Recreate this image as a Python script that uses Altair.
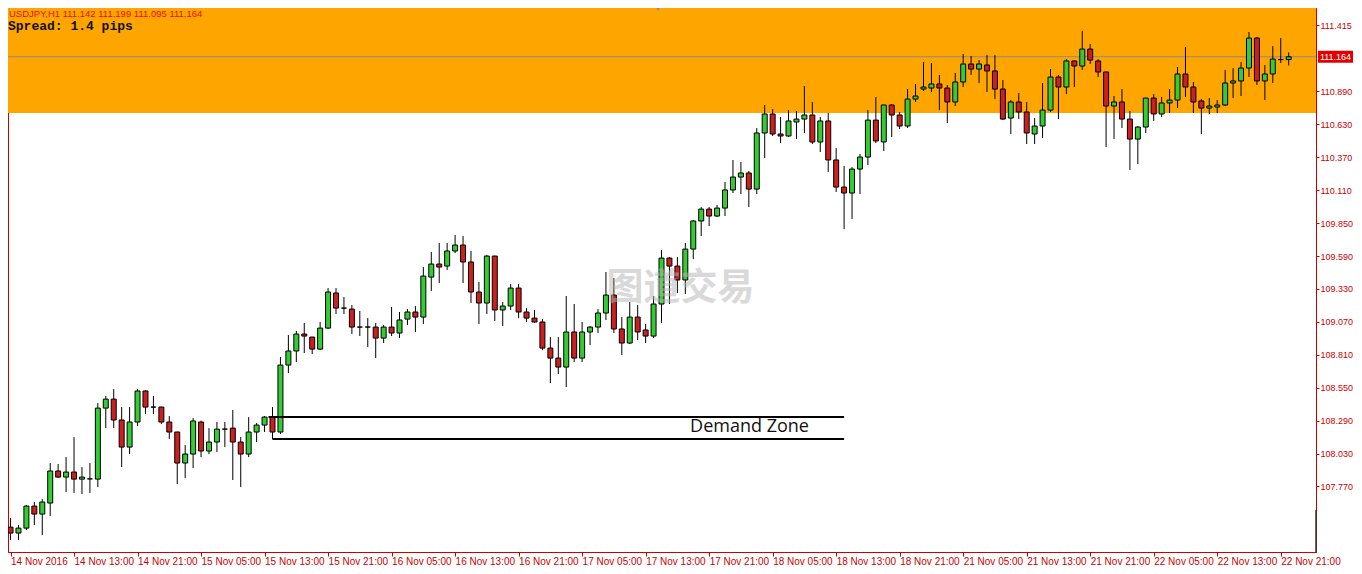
import json
import altair as alt
import pandas as pd

# ---------------- data ----------------
opens = [107.449, 107.402, 107.441, 107.615, 107.552, 107.639, 107.892, 107.844, 107.884, 107.828,
         107.830, 107.828, 108.389, 108.460, 108.295, 108.081, 108.279, 108.524, 108.397, 108.397,
         108.279, 108.200, 107.955, 108.026, 108.279, 108.050, 108.121, 108.223, 108.231, 108.121,
         108.026, 108.200, 108.255, 108.318, 108.200, 108.729, 108.840, 108.974, 108.950, 108.855,
         109.021, 109.298, 109.179, 109.171, 109.029, 109.029, 109.029, 108.942, 109.029, 108.982,
         109.092, 109.148, 109.108, 109.424, 109.527, 109.511, 109.630, 109.677, 109.543, 109.306,
         109.219, 109.590, 109.164, 109.195, 109.337, 109.148, 109.100, 109.069, 108.863, 108.784,
         108.713, 108.990, 108.784, 108.990, 109.029, 109.140, 109.282, 109.014, 108.903, 109.108,
         109.006, 108.958, 109.211, 109.574, 109.511, 109.401, 109.645, 109.867, 109.961, 109.906,
         109.969, 110.112, 110.214, 110.246, 110.119, 110.562, 110.712, 110.554, 110.538, 110.649,
         110.672, 110.704, 110.491, 110.657, 110.349, 110.135, 110.088, 110.277, 110.372, 110.664,
         110.491, 110.783, 110.704, 110.617, 110.830, 110.909, 110.917, 110.949, 110.917, 110.807,
         110.965, 111.107, 111.067, 111.099, 111.052, 110.909, 110.680, 110.807, 110.728, 110.554,
         110.617, 110.743, 111.004, 110.925, 111.131, 111.091, 111.225, 111.131, 111.044, 110.775,
         110.807, 110.672, 110.514, 110.609, 110.838, 110.712, 110.799, 110.822, 111.028, 110.925,
         110.815, 110.759, 110.767, 110.783, 110.957, 110.973, 111.075, 111.312, 110.973, 111.028,
         111.142, 111.142]
highs = [107.520, 107.465, 107.623, 107.647, 107.670, 107.955, 107.947, 108.002, 108.160, 107.923,
         107.955, 108.429, 108.484, 108.539, 108.397, 108.397, 108.539, 108.530, 108.484, 108.400,
         108.326, 108.203, 108.097, 108.310, 108.290, 108.231, 108.279, 108.279, 108.374, 108.160,
         108.318, 108.271, 108.326, 108.397, 108.792, 108.966, 108.998, 109.061, 108.952, 109.069,
         109.337, 109.337, 109.266, 109.203, 109.156, 109.100, 109.061, 109.045, 109.187, 109.148,
         109.171, 109.195, 109.503, 109.622, 109.693, 109.693, 109.756, 109.748, 109.630, 109.385,
         109.598, 109.593, 109.227, 109.369, 109.369, 109.179, 109.164, 109.092, 108.950, 108.950,
         109.274, 109.211, 109.069, 109.037, 109.171, 109.464, 109.416, 109.108, 109.227, 109.203,
         109.053, 109.274, 109.638, 109.582, 109.582, 109.693, 109.874, 109.977, 109.977, 109.993,
         110.175, 110.349, 110.333, 110.262, 110.601, 110.783, 110.751, 110.688, 110.743, 110.736,
         110.933, 110.807, 110.688, 110.720, 110.443, 110.301, 110.293, 110.396, 110.743, 110.846,
         110.786, 110.790, 110.728, 110.909, 110.949, 111.123, 111.115, 111.020, 110.941, 111.036,
         111.186, 111.170, 111.138, 111.178, 111.178, 110.980, 110.822, 110.878, 110.807, 110.680,
         110.957, 111.067, 111.020, 111.146, 111.134, 111.368, 111.265, 111.146, 111.047, 110.854,
         110.909, 110.736, 110.617, 110.841, 110.870, 110.846, 110.909, 111.083, 111.241, 110.965,
         110.830, 110.838, 110.822, 111.060, 111.075, 111.123, 111.360, 111.320, 111.099, 111.249,
         111.312, 111.199]
lows = [107.347, 107.347, 107.426, 107.465, 107.386, 107.536, 107.836, 107.726, 107.718, 107.710,
        107.718, 107.765, 108.231, 108.231, 107.923, 108.026, 108.247, 108.342, 108.342, 108.263,
        108.144, 107.789, 107.836, 107.915, 108.002, 108.026, 108.042, 108.081, 107.821, 107.765,
        108.002, 108.121, 108.200, 108.144, 108.184, 108.666, 108.753, 108.824, 108.816, 108.847,
        109.014, 109.132, 109.132, 108.974, 108.958, 108.871, 108.784, 108.903, 108.958, 108.942,
        109.045, 108.990, 109.053, 109.314, 109.377, 109.480, 109.614, 109.377, 109.219, 109.053,
        109.132, 109.077, 109.037, 109.164, 109.100, 109.069, 109.061, 108.847, 108.587, 108.658,
        108.555, 108.753, 108.753, 108.887, 108.982, 109.085, 108.982, 108.808, 108.895, 108.927,
        108.903, 108.942, 109.061, 109.211, 109.298, 109.290, 109.566, 109.748, 109.827, 109.898,
        109.906, 110.088, 110.080, 109.977, 110.080, 110.364, 110.538, 110.483, 110.530, 110.514,
        110.562, 110.475, 110.412, 110.254, 110.096, 109.803, 109.882, 110.080, 110.309, 110.483,
        110.420, 110.530, 110.593, 110.601, 110.807, 110.894, 110.886, 110.743, 110.641, 110.775,
        110.925, 111.020, 110.957, 110.886, 110.830, 110.664, 110.554, 110.672, 110.475, 110.475,
        110.522, 110.728, 110.672, 110.870, 110.925, 111.060, 111.107, 111.004, 110.451, 110.514,
        110.601, 110.270, 110.317, 110.562, 110.657, 110.688, 110.720, 110.759, 110.846, 110.720,
        110.554, 110.712, 110.720, 110.775, 110.838, 110.854, 111.004, 110.941, 110.822, 110.957,
        111.115, 111.095]
closes = [107.402, 107.441, 107.615, 107.552, 107.647, 107.892, 107.844, 107.884, 107.828, 107.844,
          107.830, 108.389, 108.460, 108.295, 108.081, 108.279, 108.524, 108.397, 108.397, 108.279,
          108.200, 107.955, 108.026, 108.287, 108.050, 108.121, 108.223, 108.223, 108.121, 108.026,
          108.200, 108.255, 108.318, 108.200, 108.729, 108.840, 108.974, 108.958, 108.855, 109.021,
          109.306, 109.179, 109.179, 109.029, 109.029, 109.029, 108.942, 109.029, 108.982, 109.085,
          109.148, 109.108, 109.432, 109.527, 109.503, 109.630, 109.677, 109.543, 109.306, 109.219,
          109.590, 109.164, 109.195, 109.337, 109.148, 109.100, 109.069, 108.863, 108.784, 108.713,
          108.990, 108.784, 108.990, 109.029, 109.140, 109.282, 109.014, 108.903, 109.108, 108.990,
          108.958, 109.211, 109.574, 109.511, 109.401, 109.645, 109.867, 109.961, 109.906, 109.969,
          110.112, 110.214, 110.246, 110.119, 110.562, 110.712, 110.554, 110.538, 110.657, 110.672,
          110.704, 110.491, 110.657, 110.349, 110.135, 110.088, 110.277, 110.372, 110.664, 110.499,
          110.783, 110.704, 110.617, 110.830, 110.854, 110.925, 110.949, 110.917, 110.807, 110.965,
          111.107, 111.067, 111.107, 111.052, 110.909, 110.672, 110.807, 110.728, 110.562, 110.617,
          110.743, 111.004, 110.925, 111.131, 111.091, 111.225, 111.138, 111.044, 110.775, 110.807,
          110.672, 110.514, 110.609, 110.838, 110.712, 110.799, 110.822, 111.028, 110.925, 110.807,
          110.759, 110.775, 110.783, 110.957, 110.973, 111.075, 111.312, 110.973, 111.028, 111.146,
          111.142, 111.164]

time_labels = ["14 Nov 2016", "14 Nov 13:00", "14 Nov 21:00", "15 Nov 05:00", "15 Nov 13:00",
               "15 Nov 21:00", "16 Nov 05:00", "16 Nov 13:00", "16 Nov 21:00", "17 Nov 05:00",
               "17 Nov 13:00", "17 Nov 21:00", "18 Nov 05:00", "18 Nov 13:00", "18 Nov 21:00",
               "21 Nov 05:00", "21 Nov 13:00", "21 Nov 21:00", "22 Nov 05:00", "22 Nov 13:00",
               "22 Nov 21:00"]
label_bars = [0, 8, 16, 24, 32, 40, 48, 56, 64, 72, 80, 88, 96, 104, 112, 120, 128, 136, 144, 152, 160]
price_ticks = [111.415, 110.890, 110.630, 110.370, 110.110, 109.850, 109.590, 109.330,
               109.070, 108.810, 108.550, 108.290, 108.030, 107.770]

current_price = [111.164]
zone_top = [111.60]
zone_bottom = [110.72]
demand_x0 = [32.5, 33.0]
demand_x1 = [105.0, 105.0]
demand_y = [108.318, 108.144]
header_line1 = "USDJPY,H1  111.142 111.199 111.095 111.164"
header_line2 = "Spread: 1.4 pips"

# ---------------- tables ----------------
df = pd.DataFrame({"i": list(range(len(opens))), "o": opens, "h": highs, "l": lows, "c": closes})
df["dir"] = ["up" if c > o else ("down" if c < o else "flat") for o, c in zip(opens, closes)]

W, H = 1308, 544
xs = alt.Scale(domain=[0.3125, 163.8125], nice=False, zero=False)
ys = alt.Scale(domain=[107.2523, 111.5493], nice=False, zero=False)
GREEN = "#33cc33"
RED = "#cc1f1f"
AXIS_RED = "#cc0000"

label_expr = json.dumps(time_labels) + "[round(datum.value / 8)]"
x_axis = alt.Axis(values=label_bars, labelExpr=label_expr, title=None, tickSize=4,
                  labelAlign="left", labelBaseline="top", labelPadding=0,
                  labelOverlap=False, labelFlush=False, labelBound=False, grid=False)
y_axis = alt.Axis(values=price_ticks, format=".3f", orient="right", title=None, tickSize=3,
                  labelPadding=1, labelOverlap=False, labelFontSize=9, grid=False)


def X(field):
    return alt.X(field, scale=xs, axis=x_axis)


def Y(field):
    return alt.Y(field, scale=ys, axis=y_axis)


zone = alt.Chart(pd.DataFrame({"top": zone_top, "bot": zone_bottom})).mark_rect(
    color="#FFA500", clip=True
).encode(x=alt.value(0), x2=alt.value(W), y=Y("top:Q"), y2="bot:Q")

price_line = alt.Chart(pd.DataFrame({"p": current_price})).mark_rule(
    color="#8a8a8a", strokeWidth=1
).encode(x=alt.value(0), x2=alt.value(W), y=Y("p:Q"))

base = alt.Chart(df)
wicks = base.mark_rule(color="black", strokeWidth=1, clip=True).encode(
    x=X("i:Q"), y=Y("l:Q"), y2="h:Q"
)
bodies = base.mark_bar(width=5, stroke="black", strokeWidth=1, clip=True).encode(
    x=X("i:Q"), y=Y("o:Q"), y2="c:Q",
    fill=alt.Fill("dir:N", scale=alt.Scale(domain=["up", "down", "flat"], range=[GREEN, RED, "#000000"]),
                  legend=None),
)

dz = alt.Chart(pd.DataFrame({"x0": demand_x0, "x1": demand_x1, "y": demand_y})).mark_rule(
    color="black", strokeWidth=2
).encode(x=X("x0:Q"), x2="x1:Q", y=Y("y:Q"))

dz_text = alt.Chart(pd.DataFrame({"x": [85.6], "y": [108.239], "t": ["Demand Zone"]})).mark_text(
    align="left", baseline="middle", fontSize=18, font="Open Sans", color="#111111"
).encode(x=X("x:Q"), y=Y("y:Q"), text="t:N")

watermark = alt.Chart(pd.DataFrame({"x": [84.4], "y": [109.329], "t": ["图道交易"]})).mark_text(
    align="center", baseline="middle", fontSize=37, font="Noto Sans CJK SC", fontWeight="bold",
    color="#b4b4b4", opacity=0.5
).encode(x=X("x:Q"), y=Y("y:Q"), text="t:N")

head1 = alt.Chart(pd.DataFrame({"t": [header_line1]})).mark_text(
    align="left", baseline="middle", fontSize=9.5, font="Liberation Sans", color="#e01010"
).encode(x=alt.value(1), y=alt.value(6), text="t:N")
head2 = alt.Chart(pd.DataFrame({"t": [header_line2]})).mark_text(
    align="left", baseline="middle", fontSize=13, font="Liberation Mono", fontWeight="bold",
    color="#111111"
).encode(x=alt.value(0), y=alt.value(18), text="t:N")

tri = alt.Chart(pd.DataFrame({"t": [1]})).mark_point(
    shape="triangle-down", filled=True, size=20, color="#8a8aa0", opacity=1
).encode(x=alt.value(650), y=alt.value(1))

shift_mark = alt.Chart(pd.DataFrame({"t": [1]})).mark_rule(color="#333333", strokeWidth=1.5).encode(
    x=alt.value(W), y=alt.value(502), y2=alt.value(H)
)

pbox = alt.Chart(pd.DataFrame({"p": current_price})).transform_calculate(
    a="datum.p + 0.047", b="datum.p - 0.047"
).mark_rect(color="#e00000").encode(
    x=alt.value(W + 2), x2=alt.value(W + 37), y=Y("a:Q"), y2="b:Q"
)
ptext = alt.Chart(pd.DataFrame({"p": current_price, "t": ["111.164"]})).mark_text(
    align="center", baseline="middle", fontSize=9, font="Liberation Sans", color="white"
).encode(x=alt.value(W + 19.5), y=Y("p:Q"), text="t:N")

chart = alt.layer(
    zone, price_line, wicks, bodies, dz, dz_text, watermark, head1, head2, tri, shift_mark, pbox, ptext
).properties(
    width=W, height=H,
    padding={"left": 0, "top": 0, "right": 38, "bottom": 14},
    autosize=alt.AutoSizeParams(type="none"),
    background="white",
).configure_view(
    stroke=AXIS_RED, strokeWidth=1
).configure_axis(
    domainColor=AXIS_RED, tickColor=AXIS_RED, labelColor=AXIS_RED,
    labelFont="Liberation Sans", labelFontSize=10, domainWidth=1,
)

chart.save("out.html", embed_options={"renderer": "svg", "actions": False})
